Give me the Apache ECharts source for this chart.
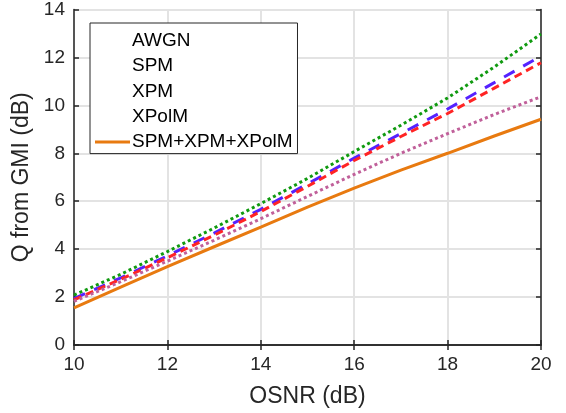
<!DOCTYPE html>
<html>
<head>
<meta charset="utf-8">
<script src="https://cdn.jsdelivr.net/npm/echarts@6/dist/echarts.min.js"></script>
<style>html,body{margin:0;padding:0;background:#fff}#c{width:566px;height:413px}</style>
</head>
<body>
<div id="c"></div>
<script>
var osnr = [10, 11, 12, 13, 14, 15, 16, 17, 18, 19, 20];
var awgn = [2.08, 2.95, 3.9, 4.88, 5.9, 6.95, 8.07, 9.17, 10.31, 11.6, 12.98];
var spm = [1.94, 2.8, 3.72, 4.67, 5.66, 6.72, 7.8, 8.82, 9.85, 10.95, 12.06];
var xpm = [1.88, 2.74, 3.64, 4.58, 5.57, 6.62, 7.7, 8.7, 9.66, 10.72, 11.78];
var xpolm = [1.82, 2.64, 3.5, 4.37, 5.27, 6.2, 7.12, 8.0, 8.82, 9.62, 10.36];
var total = [1.55, 2.42, 3.27, 4.1, 4.92, 5.75, 6.55, 7.3, 8.0, 8.72, 9.42];
var names = ['AWGN', 'SPM', 'XPM', 'XPolM', 'SPM+XPM+XPolM'];
var xTicks = [10, 12, 14, 16, 18, 20];
var yTicks = [0, 2, 4, 6, 8, 10, 12, 14];

function pairs(v) { return osnr.map(function (x, i) { return [x, v[i]]; }); }

var FONT = 'Liberation Sans';
var chart = echarts.init(document.getElementById('c'), null, {renderer: 'canvas'});
var axisCommon = {
  type: 'value',
  interval: 2,
  axisLine: {show: true, lineStyle: {color: '#262626', width: 1.5}},
  axisTick: {show: true, inside: true, length: 5, lineStyle: {color: '#262626', width: 1.5}},
  splitLine: {show: false}
};
var series = [
  {name: names[0], data: pairs(awgn), color: '#109a10', lineStyle: {color: '#109a10', width: 3, type: [3, 3]}},
  {name: names[1], data: pairs(spm), color: '#5522ff', lineStyle: {color: '#5522ff', width: 3, type: [12, 10]}},
  {name: names[2], data: pairs(xpm), color: '#ff2424', lineStyle: {color: '#ff2424', width: 3, type: [8, 5]}},
  {name: names[3], data: pairs(xpolm), color: '#c0609a', lineStyle: {color: '#c0609a', width: 3, type: [3, 3]}},
  {name: names[4], data: pairs(total), color: '#e87a10', lineStyle: {color: '#e87a10', width: 3}}
].map(function (s) {
  s.type = 'line'; s.showSymbol = false; s.symbol = 'none'; s.smooth = false; s.animation = false;
  s.xAxisIndex = 0; s.yAxisIndex = 0;
  return s;
});

chart.setOption({
  animation: false,
  textStyle: {fontFamily: FONT},
  grid: {left: 74, right: 25, top: 9, bottom: 66, show: false},
  xAxis: [
    Object.assign({}, axisCommon, {
      min: xTicks[0], max: xTicks[xTicks.length - 1], position: 'bottom',
      name: 'OSNR (dB)', nameLocation: 'middle', nameGap: 40,
      nameTextStyle: {fontFamily: FONT, fontSize: 23, color: '#262626'},
      axisLabel: {fontFamily: FONT, fontSize: 19, color: '#262626', margin: 10},
      splitLine: {show: true, lineStyle: {color: '#e3e3e3', width: 2}}
    }),
    Object.assign({}, axisCommon, {
      min: xTicks[0], max: xTicks[xTicks.length - 1], position: 'top',
      axisLabel: {show: false}
    })
  ],
  yAxis: [
    Object.assign({}, axisCommon, {
      min: yTicks[0], max: yTicks[yTicks.length - 1], position: 'left',
      name: 'Q from GMI (dB)', nameLocation: 'middle', nameGap: 35, nameRotate: 90,
      nameTextStyle: {fontFamily: FONT, fontSize: 23, color: '#262626'},
      axisLabel: {fontFamily: FONT, fontSize: 19, color: '#262626', margin: 9},
      splitLine: {show: true, lineStyle: {color: '#e3e3e3', width: 2}}
    }),
    Object.assign({}, axisCommon, {
      min: yTicks[0], max: yTicks[yTicks.length - 1], position: 'right',
      axisLabel: {show: false}
    })
  ],
  legend: {
    orient: 'vertical', left: 90, top: 23,
    backgroundColor: '#ffffff', borderColor: '#262626', borderWidth: 1,
    padding: [8, 5, 2, 5], itemGap: 6.4, itemWidth: 35, itemHeight: 3,
    icon: 'rect',
    textStyle: {fontFamily: FONT, fontSize: 19, color: '#000', padding: [0, 0, 0, -3]},
    data: names.map(function (n, i) {
      return i < 4 ? {name: n, itemStyle: {opacity: 0}} : {name: n};
    })
  },
  series: series
});
</script>
</body>
</html>
